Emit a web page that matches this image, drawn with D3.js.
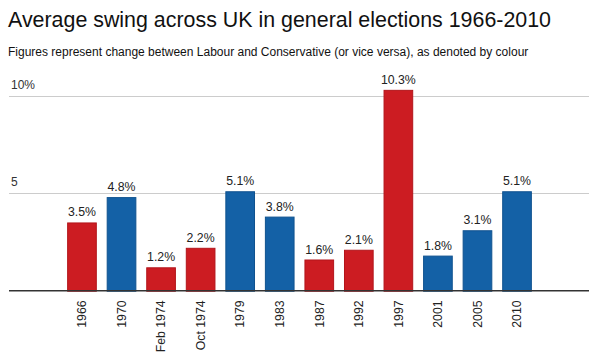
<!DOCTYPE html>
<html><head><meta charset="utf-8">
<script src="https://cdn.jsdelivr.net/npm/d3@7"></script>
<style>body{margin:0;background:#fff}svg{display:block;font-family:"Liberation Sans",Arial,Helvetica,sans-serif}</style>
</head><body>
<svg id="c" width="595" height="355"></svg>
<script>
const categories = ["1966","1970","Feb 1974","Oct 1974","1979","1983","1987","1992","1997","2001","2005","2010"];
const swing = [3.5, 4.8, 1.2, 2.2, 5.1, 3.8, 1.6, 2.1, 10.3, 1.8, 3.1, 5.1];
const party = ["Lab","Con","Lab","Lab","Con","Con","Lab","Lab","Lab","Con","Con","Con"];
const yTicks = [5, 10];
const yTickLabels = ["5", "10%"];
const colors = {Lab: "#cc1c22", Con: "#1461a6"};
const strokes = {Lab: "#b3151b", Con: "#0f528f"};

const svg = d3.select("#c");
const left = 9, right = 589, base = 290.7;
const y = d3.scaleLinear().domain([0, 10]).range([base, 95.7]);
const x = d3.scaleBand().domain(categories).range([62.2, 62.2 + 12 * 39.55]).paddingInner(0.25).paddingOuter(0.125);

svg.append("text").attr("x", 8).attr("y", 27).attr("font-size", 21.4).attr("fill", "#111")
  .text("Average swing across UK in general elections 1966-2010");
svg.append("text").attr("x", 8).attr("y", 56).attr("font-size", 12).attr("fill", "#111")
  .text("Figures represent change between Labour and Conservative (or vice versa), as denoted by colour");

const g = svg.append("g");
g.selectAll("line.grid").data(yTicks).join("line").attr("class", "grid")
  .attr("x1", left).attr("x2", right).attr("y1", d => Math.round(y(d)) + 0.5).attr("y2", d => Math.round(y(d)) + 0.5)
  .attr("stroke", "#cccccc").attr("stroke-width", 1);
g.selectAll("text.yl").data(yTicks).join("text").attr("class", "yl")
  .attr("x", 11).attr("y", d => y(d) - 7).attr("font-size", 12).attr("fill", "#333")
  .text((d, i) => yTickLabels[i]);

g.selectAll("rect.bar").data(swing).join("rect").attr("class", "bar")
  .attr("x", (d, i) => x(categories[i]) + 0.5)
  .attr("width", x.bandwidth() - 1)
  .attr("y", d => y(d) + 0.5)
  .attr("height", d => base - y(d))
  .attr("fill", (d, i) => colors[party[i]])
  .attr("stroke", (d, i) => strokes[party[i]]).attr("stroke-width", 1);

g.selectAll("text.val").data(swing).join("text").attr("class", "val")
  .attr("x", (d, i) => x(categories[i]) + x.bandwidth() / 2)
  .attr("y", d => y(d) - 6).attr("text-anchor", "middle").attr("font-size", 12.3).attr("fill", "#222")
  .text(d => d.toFixed(1) + "%");

g.append("line").attr("x1", left).attr("x2", right).attr("y1", base).attr("y2", base)
  .attr("stroke", "#333").attr("stroke-width", 1.5);

const xAxis = d3.axisBottom(x).tickSize(0).tickPadding(0);
const ax = svg.append("g").attr("transform", `translate(0,${base})`).call(xAxis);
ax.select(".domain").remove();
ax.selectAll("text").attr("font-size", 12.3).attr("fill", "#222").attr("font-family", null)
  .attr("transform", "rotate(-90)").attr("text-anchor", "end")
  .attr("x", -6).attr("y", 0).attr("dy", "0.35em").attr("dx", "-0.3em");
</script>
</body></html>
